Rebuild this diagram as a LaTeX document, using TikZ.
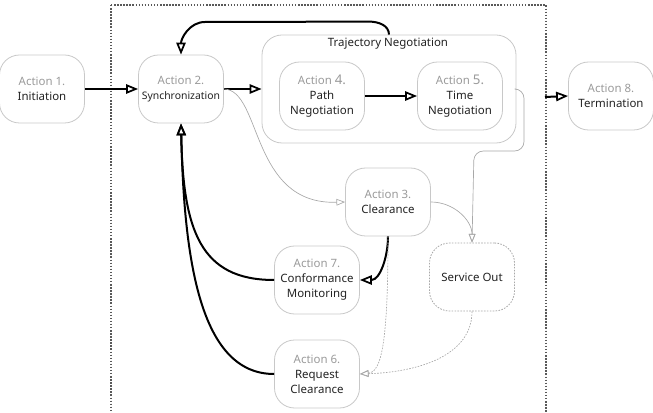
\documentclass[tikz,border=0pt]{standalone}
\usepackage{fontspec}
\setmainfont{Noto Sans}
\usetikzlibrary{arrows.meta}
\definecolor{boxc}{HTML}{C8C8C8}
\definecolor{actc}{HTML}{9A9A9A}
\definecolor{txtc}{HTML}{222222}
\definecolor{thinc}{HTML}{A8A8A8}
\tikzset{
  act/.style={draw=boxc, line width=0.6pt, rounded corners=15pt, minimum width=63.75pt, minimum height=51pt, align=center, text=txtc, font=\fontsize{8.6}{11.25}\selectfont, inner sep=1pt},
  thickarr/.style={line width=1.5pt, black, -{Triangle[open, length=9pt, width=7pt, line width=1.3pt]}},
  thinarr/.style={line width=0.5pt, thinc, -{Triangle[open, length=6.5pt, width=5pt, line width=0.5pt]}},
  dasharr/.style={thinarr, dash pattern=on 1.2pt off 1pt},
}
\newcommand{\actlab}[1]{\textcolor{actc}{Action #1}}
\begin{document}
\begin{tikzpicture}[x=0.75pt,y=-0.75pt]
\useasboundingbox (0,0) rectangle (653,413);
% outer dotted region
\draw[gray!70!black, line width=0.9pt, dash pattern=on 1.1pt off 1.2pt] (111,5) -- (546,5) -- (546,420) (111,5) -- (111,420);
% trajectory container
\node[draw=boxc, line width=0.6pt, rounded corners=15pt, minimum width=190.5pt, minimum height=81pt] (tn) at (389,89) {};
\node[font=\fontsize{8.6}{10}\selectfont, text=txtc] (tnl) at (388,44) {Trajectory Negotiation};
% nodes
\node[act] (a1) at (42,89) {\actlab{1.}\\Initiation};
\node[act] (a2) at (181,89) {\actlab{2.}\\{\fontsize{7.8}{11.25}\selectfont Synchronization}};
\node[act] (a4) at (322,96) {\textcolor{actc}{Action {\fontsize{10}{11}\selectfont 4.}}\\Path\\Negotiation};
\node[act] (a5) at (460,96) {\textcolor{actc}{Action {\fontsize{10}{11}\selectfont 5.}}\\Time\\Negotiation};
\node[act] (a8) at (611,96) {\actlab{8.}\\Termination};
\node[act] (a3) at (388,202) {\actlab{3.}\\Clearance};
\node[act] (a7) at (317,280) {\actlab{7.}\\Conformance\\Monitoring};
\node[act, dash pattern=on 1.2pt off 1pt, draw=thinc] (so) at (472,277) {Service Out};
\node[act] (a6) at (317,374) {\actlab{6.}\\Request\\Clearance};
\coordinate (bx) at (545,97);
% thick edges
\draw[thickarr] (a1.east) -- (a2.west);
\draw[thickarr] (a2.east) -- (a2.east -| tn.west);
\draw[thickarr] (a4.east) -- (a5.west);
\draw[thickarr] (bx) -- (a8.west);
\draw[thickarr] (tn.north) to[out=90,in=0] ++(-20,-13) -- (205,22) to[out=180,in=90] (a2.north);
\draw[thickarr] (a3.south) to[out=-90,in=0] (a7.east);
\draw[thickarr] (a7.west) .. controls (200,280) and (183,230) .. (a2.south);
\draw[thickarr] (a6.west) .. controls (200,374) and (184,260) .. (a2.south);
% thin edges
\draw[thinarr] (a2.east) .. controls (262,90) and (250,205) .. (a3.west);
\draw[thinarr] (a3.east) to[out=0,in=90] (so.north);
\draw[thinarr, rounded corners=7pt] (tn.east) -- (524,89) -- (524,151) -- (474,151) -- (so.north);
\draw[dasharr] (a3.south) .. controls (388,340) and (382,372) .. (a6.east);
\draw[dasharr] (so.south) .. controls (472,355) and (420,372) .. (a6.east);
\end{tikzpicture}
\end{document}
